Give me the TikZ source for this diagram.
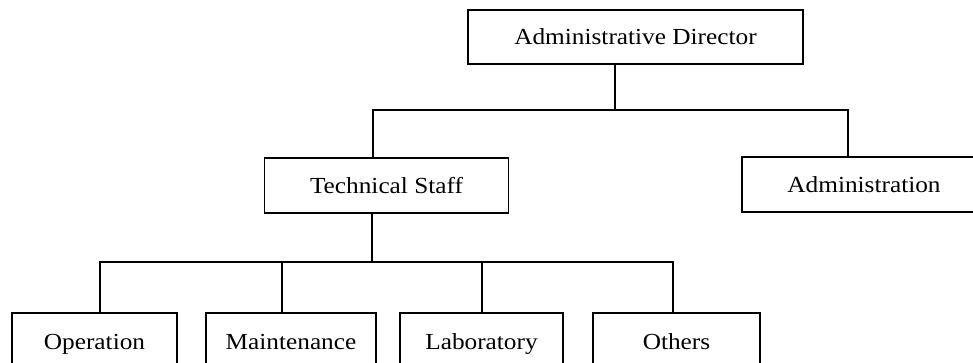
\documentclass[tikz,border=0pt]{standalone}
\usepackage{fontspec}
\setmainfont{Liberation Serif}[FakeStretch=1.1]
\usetikzlibrary{calc}
\begin{document}
\begin{tikzpicture}[x=1pt,y=-1pt,
  box/.style={draw,line width=1.1pt,rectangle,inner sep=0pt,text height=16pt,text depth=0pt,font=\fontsize{23}{26}\selectfont},
  conn/.style={line width=1.1pt}]
\useasboundingbox (0,0) rectangle (973,363);
\clip (0,0) rectangle (973,363);
\node[box,minimum width=335,minimum height=54] (ad) at (635.5,37) {Administrative Director};
\node[box,minimum width=244,minimum height=55] (ts) at (386.5,185.5) {Technical Staff};
\node[box,minimum width=244,minimum height=55] (adm) at (864,184.5) {Administration};
\node[box,minimum width=165,minimum height=56] (op) at (94.5,341) {Operation};
\node[box,minimum width=170,minimum height=56] (mt) at (291,341) {Maintenance};
\node[box,minimum width=163,minimum height=56] (lab) at (481.5,341) {Laboratory};
\node[box,minimum width=167,minimum height=56] (oth) at (676.5,341) {Others};
\coordinate (b1) at (615,110);
\coordinate (b2) at (372,262);
\coordinate (tsu) at ($(ts.north)+(-13.5,0)$);
\coordinate (admu) at ($(adm.north)+(-16,0)$);
\coordinate (tsd) at ($(ts.south)+(-14.5,0)$);
\coordinate (opu) at ($(op.north)+(5.5,0)$);
\coordinate (mtu) at ($(mt.north)+(-9,0)$);
\coordinate (labu) at ($(lab.north)+(0.5,0)$);
\coordinate (othu) at ($(oth.north)+(-3.5,0)$);
\draw[conn] (ad.south -| b1) -- (b1);
\draw[conn] (tsu) |- (b1) -| (admu);
\draw[conn] (tsd) -- (b2);
\draw[conn] (opu) |- (b2) -| (othu);
\draw[conn] (mtu) -- (mtu |- b2);
\draw[conn] (labu) -- (labu |- b2);
\end{tikzpicture}
\end{document}
